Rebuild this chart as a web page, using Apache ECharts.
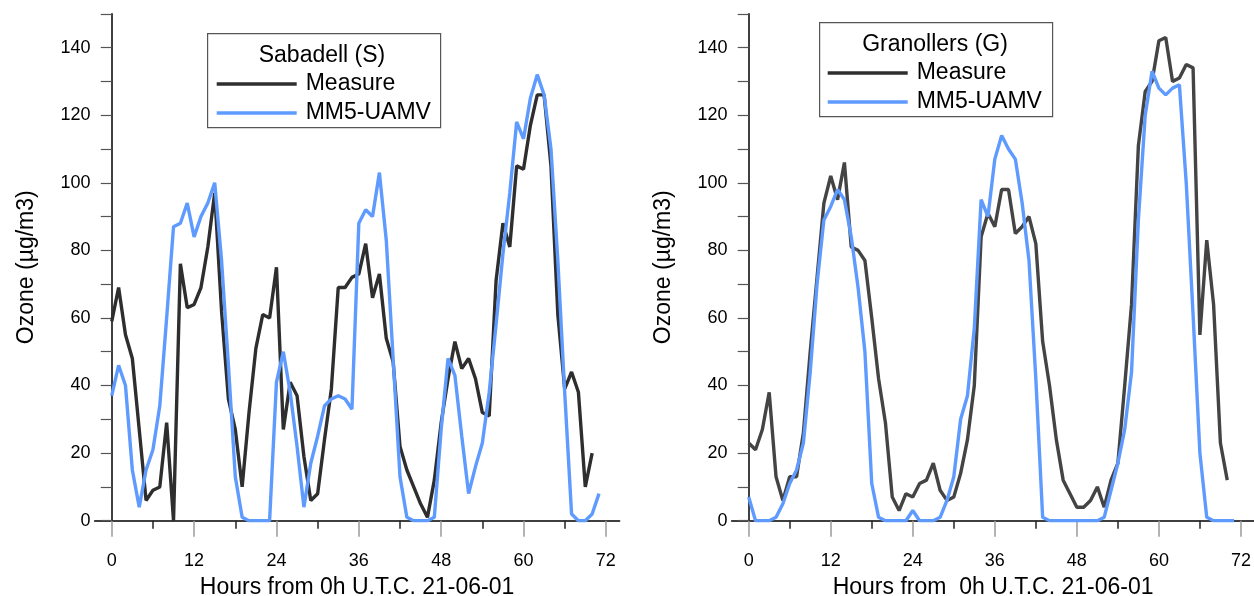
<!DOCTYPE html>
<html><head><meta charset="utf-8">
<script src="https://cdn.jsdelivr.net/npm/echarts@6/dist/echarts.min.js"></script>
<style>html,body{margin:0;padding:0;background:#fff}#c{width:1254px;height:596px}</style>
</head><body><div id="c"></div>
<script>
// Data (hours from 0h UTC 21-06-01, ozone µg/m3)
const sabadellMeasure = [59,69,55,48,27,6,9,10,29,0,76,63,64,69,81,97,62,36,27,10,32,51,61,60,75,27,41,37,19,6,8,24,39,69,69,72,73,82,66,73,54,47,22,15,10,5,1,12,29,42,53,45,48,42,32,31,71,88,81,105,104,117,126,126,105,61,39,44,38,10,20];
const sabadellModel = [37,46,40,15,4,15,21,34,60,87,88,94,84,90,94,100,77,46,13,1,0,0,0,0,41,50,38,22,4,17,25,34,36,37,36,33,88,92,90,103,83,48,13,1,0,0,0,1,27,48,43,25,8,16,23,38,58,79,97,118,113,125,132,126,110,77,38,2,0,0,2,8];
const granollersMeasure = [23,21,27,38,13,6,13,13,26,50,72,94,102,95,106,81,80,77,60,42,29,7,3,8,7,11,12,17,9,6,7,14,24,40,84,91,87,98,98,85,87,90,82,53,40,24,12,8,4,4,6,10,4,12,17,40,64,111,127,130,142,143,130,131,135,134,55,83,64,23,12];
const granollersModel = [7,0,0,0,1,5,11,15,23,44,70,89,93,98,95,84,69,50,11,1,0,0,0,0,3,0,0,0,1,6,13,30,37,57,95,90,107,114,110,107,94,77,42,1,0,0,0,0,0,0,0,0,1,9,17,27,44,89,120,133,128,126,128,129,100,61,20,1,0,0,0,0];
const xMajorTicks = [0,12,24,36,48,60,72];
const xMinorTicks = [6,18,30,42,54,66];
const seriesNames = ['Measure','MM5-UAMV'];
const stationTitles = ['Sabadell (S)','Granollers (G)'];
const xAxisNames = ['Hours from 0h U.T.C. 21-06-01','Hours from  0h U.T.C. 21-06-01'];
const yAxisName = 'Ozone (µg/m3)';

const FONT = 'Liberation Sans';
const BLUE = '#5f9bff';
const toPairs = a => a.map((v,i)=>[i,v]);

const grids = [
  {left: 94.6, width: 525, top: 13.8, height: 506.9, outerBoundsMode: 'none', containLabel: false},
  {left: 731.6, width: 523, top: 13.8, height: 506.9, outerBoundsMode: 'none', containLabel: false}
];
const xAxes = [], yAxes = [], series = [];
[0,1].forEach(g => {
  xAxes.push({
    gridIndex: g, type: 'value', min: -2.5, max: 74, position: 'bottom',
    name: xAxisNames[g], nameLocation: 'middle', nameGap: 55, nameMoveOverlap: false,
    nameTextStyle: {fontFamily: FONT, fontSize: 23, color: '#000'},
    axisLine: {show: true, onZero: false, lineStyle: {color: '#000', width: 1.5}},
    axisTick: {show: true, customValues: xMajorTicks, length: 16, lineStyle: {color: '#9a9a9a', width: 1.5}},
    axisLabel: {show: true, customValues: xMajorTicks, margin: 31, fontFamily: FONT, fontSize: 18, color: '#000'},
    splitLine: {show: false}
  });
  xAxes.push({
    gridIndex: g, type: 'value', min: -2.5, max: 74, position: 'bottom',
    axisLine: {show: false, onZero: false},
    axisTick: {show: true, customValues: xMinorTicks, length: 8, lineStyle: {color: '#222', width: 1.5}},
    axisLabel: {show: false},
    splitLine: {show: false}
  });
  yAxes.push({
    gridIndex: g, type: 'value', min: 0, max: 150, interval: 10,
    name: yAxisName, nameLocation: 'middle', nameGap: 56, nameRotate: 90, nameMoveOverlap: false,
    nameTextStyle: {fontFamily: FONT, fontSize: 23, color: '#000'},
    axisLine: {show: true, onZero: true, onZeroAxisIndex: g*2, lineStyle: {color: '#000', width: 1.5}},
    axisTick: {show: true, length: 11, lineStyle: {color: '#555', width: 1.2}},
    axisLabel: {margin: 4, fontFamily: FONT, fontSize: 18, color: '#000',
      formatter: v => (v % 20 === 0 && v <= 140) ? String(v) : ''},
    splitLine: {show: false}
  });
});
const measureColors = ['#2e2e2e', '#444444'];
const dataSets = [[sabadellMeasure, sabadellModel],[granollersMeasure, granollersModel]];
[0,1].forEach(g => {
  series.push({name: seriesNames[0], type: 'line', xAxisIndex: g*2, yAxisIndex: g, symbol: 'none',
    data: toPairs(dataSets[g][0]), lineStyle: {color: measureColors[g], width: 3.4}, itemStyle: {color: measureColors[g]}, z: 2});
  series.push({name: seriesNames[1], type: 'line', xAxisIndex: g*2, yAxisIndex: g, symbol: 'none',
    data: toPairs(dataSets[g][1]), lineStyle: {color: BLUE, width: 3.4}, itemStyle: {color: BLUE}, z: 3});
});

const legendBoxes = [{x: 207, y: 33, w: 233, h: 94, tx: 322, ty: 56, lx: 215, ly: 72},
                     {x: 819, y: 22, w: 233, h: 94, tx: 935, ty: 45, lx: 826, ly: 61}];
const legends = legendBoxes.map((b, g) => ({
  left: b.lx, top: b.ly, orient: 'vertical', itemWidth: 80, itemHeight: 24, itemGap: 5,
  padding: 0, selectedMode: false, data: seriesNames, z: 20,
  itemStyle: {opacity: 0, borderWidth: 0},
  lineStyle: {width: 3.4},
  textStyle: {fontFamily: FONT, fontSize: 23, lineHeight: 24, color: '#000', padding: [0,0,0,4]}
}));
const graphic = [];
legendBoxes.forEach((b, g) => {
  graphic.push({type: 'rect', left: b.x, top: b.y, shape: {width: b.w, height: b.h},
    style: {fill: '#fff', stroke: '#555', lineWidth: 1.2}, z: 1});
  graphic.push({type: 'text', x: b.tx, y: b.ty, style: {text: stationTitles[g], fontFamily: FONT, fontSize: 23,
    fill: '#000', align: 'center', verticalAlign: 'middle'}, z: 21});
});

const chart = echarts.init(document.getElementById('c'), null, {renderer: 'canvas'});
chart.setOption({
  animation: false, backgroundColor: '#fff',
  grid: grids, xAxis: xAxes, yAxis: yAxes, series: series,
  legend: legends, graphic: graphic
});
</script></body></html>
